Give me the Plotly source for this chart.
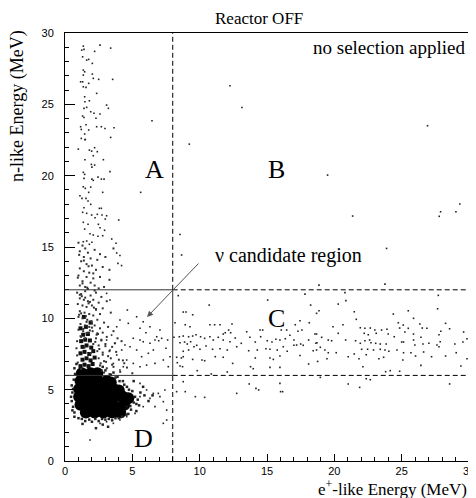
import plotly.graph_objects as go

# cut values that define the regions
e_cut = 8
n_lo = 6
n_hi = 12

# scattered events (A strip, B, C band, D, box interior)
sparse_x = [1.36, 2.60, 3.39, 1.24, 1.41, 2.20, 1.31, 1.61, 1.76, 2.03, 1.36, 1.46, 2.03, 1.36, 2.10, 2.50,
            3.54, 1.16, 1.31, 1.76, 1.36, 1.56, 2.35, 1.46, 1.48, 1.81, 3.09, 3.22, 1.41, 1.61, 1.91, 2.15,
            2.60, 1.31, 1.41, 2.30, 6.46, 1.56, 2.35, 2.70, 2.97, 3.64, 1.16, 1.21, 1.76, 1.46, 3.39, 1.21,
            1.51, 1.48, 0.99, 1.81, 1.98, 2.20, 2.40, 2.10, 1.48, 2.85, 1.96, 2.00, 2.20, 3.34, 1.36, 1.46,
            1.41, 2.00, 2.10, 2.45, 2.70, 2.90, 1.36, 1.51, 1.91, 1.76, 2.80, 5.62, 1.11, 1.26, 1.56, 1.71,
            1.91, 1.41, 2.55, 2.70, 1.31, 1.61, 1.98, 2.40, 2.75, 3.09, 2.23, 2.99, 3.99, 1.36, 1.71, 2.48,
            2.60, 1.46, 2.94, 1.86, 2.10, 2.45, 2.80, 3.79, 1.36, 1.61, 2.00, 1.81, 3.47,
            8.41, 10.71, 8.78, 8.98, 9.48, 8.17, 8.93, 9.28, 10.76, 11.11, 11.51, 12.40, 12.15, 12.30, 11.75,
            11.90, 13.49, 14.48, 14.68, 16.06, 16.46, 17.10, 17.45, 18.14, 17.30, 17.59, 18.68, 8.09, 8.49,
            8.78, 9.18, 9.48, 9.73, 10.07, 10.37, 10.76, 11.01, 11.38, 11.75, 12.25, 12.64, 13.09, 13.73,
            14.13, 14.53, 15.02, 15.37, 15.66, 15.96, 16.36, 16.70, 17.00, 17.20, 17.50, 17.69, 18.09, 18.63,
            8.54, 8.88, 9.08, 9.33, 9.58, 9.78, 10.02, 9.18, 8.78, 10.47, 10.96, 11.51, 12.05, 12.75, 13.64,
            14.28, 14.92, 15.22, 15.76, 16.21, 16.50, 17.00, 18.43, 18.68, 8.29, 8.64, 8.78, 9.48, 10.17,
            10.37, 11.16, 11.75, 12.45, 13.78, 13.98, 14.13, 15.22, 15.47, 15.96, 17.45, 18.09, 8.34, 8.54,
            8.73, 9.82, 10.86, 12.05, 15.22, 15.96, 8.78, 8.29, 8.93, 9.68, 10.37, 12.75, 13.68, 14.18,
            14.38, 15.96, 16.01, 16.16, 15.05, 17.82, 18.24, 18.68,
            18.86, 23.76, 20.79, 20.29, 20.86, 27.72, 18.86, 21.48, 24.38, 25.49, 27.67, 21.63, 25.88, 24.75,
            25.12, 26.35, 28.26, 19.90, 20.64, 21.93, 22.27, 22.67, 23.01, 23.51, 23.91, 24.85, 25.49, 26.53,
            26.87, 27.91, 28.56, 29.60, 18.56, 19.06, 20.29, 22.22, 22.52, 23.11, 24.00, 24.45, 25.24, 25.88,
            26.43, 27.77, 18.71, 19.55, 19.80, 20.84, 21.58, 21.93, 22.27, 22.62, 22.72, 23.07, 23.41, 23.85,
            25.00, 25.14, 25.88, 25.98, 26.58, 27.02, 27.62, 27.86, 28.95, 29.55, 29.85, 18.96, 19.30, 22.03,
            22.47, 22.91, 23.41, 23.76, 24.05, 24.65, 25.14, 25.69, 26.03, 26.63, 27.22, 27.77, 28.26, 29.05,
            19.55, 20.14, 21.03, 21.48, 21.83, 22.37, 23.31, 23.66, 25.09, 19.45, 18.76, 22.12, 23.81, 24.15,
            24.85, 26.43, 29.40, 29.85, 18.96, 21.03, 21.88, 22.37, 22.67, 28.56,
            12.25, 13.14, 26.92, 9.23, 19.50, 21.36, 27.79, 29.03, 29.32, 27.89, 8.54, 8.66, 23.88,
            3.09, 3.34, 4.08, 4.63, 5.57, 6.31, 6.81, 6.01, 7.05, 5.07, 5.57, 5.81, 6.31, 6.68, 6.96, 7.18,
            7.62, 7.50, 6.56, 6.19, 5.69, 5.32, 4.83, 4.45, 4.21, 3.84, 4.58, 5.07, 5.57, 6.06, 6.68, 7.30,
            7.67, 7.80, 4.33, 3.59, 4.08, 3.34, 3.71, 3.09, 3.46, 4.70, 5.32, 5.81, 3.84, 3.93, 4.20, 3.84,
            4.08, 5.57, 6.06, 6.56, 7.05, 7.30, 6.68, 7.55, 5.81, 5.20, 4.58, 4.08, 3.59, 3.09, 2.60, 1.86,
            5.57, 6.31, 6.93, 7.42, 4.58, 3.96, 7.55, 7.30]
sparse_y = [29.08, 29.15, 28.94, 28.80, 28.85, 28.71, 28.33, 28.10, 28.15, 27.87, 27.40, 27.28, 27.12, 27.05,
            26.82, 26.75, 26.75, 26.58, 26.58, 26.47, 26.23, 26.19, 25.77, 25.53, 25.18, 25.25, 24.95, 24.72,
            24.72, 24.79, 24.48, 24.37, 24.32, 24.18, 24.08, 24.02, 23.85, 23.57, 23.43, 23.43, 23.31, 23.36,
            23.43, 23.24, 23.20, 22.92, 22.68, 22.61, 22.54, 22.52, 21.86, 21.79, 21.72, 21.96, 21.68, 21.40,
            21.12, 21.12, 20.79, 20.60, 20.74, 20.28, 20.23, 20.09, 19.81, 19.76, 19.67, 19.90, 19.76, 19.76,
            19.22, 19.11, 19.20, 18.83, 18.83, 18.83, 18.59, 18.41, 18.41, 18.22, 17.99, 17.75, 17.71, 17.71,
            17.43, 17.36, 17.24, 17.29, 17.24, 17.19, 17.05, 16.96, 16.89, 16.73, 16.59, 16.59, 16.35, 16.26,
            16.17, 15.93, 15.84, 15.75, 15.79, 15.26, 15.37, 15.42, 15.33, 15.19, 15.56,
            11.59, 10.93, 10.44, 10.44, 10.25, 9.69, 9.55, 9.41, 9.55, 9.55, 9.55, 9.60, 9.18, 8.99, 8.90,
            8.99, 9.06, 9.18, 9.18, 9.18, 9.18, 9.55, 9.83, 9.69, 9.09, 9.18, 8.90, 8.67, 8.71, 8.76, 8.71,
            8.76, 8.85, 8.71, 8.60, 8.71, 8.48, 8.67, 8.48, 8.36, 8.62, 8.25, 8.67, 8.34, 8.71, 8.43, 8.34,
            8.53, 8.48, 8.57, 8.81, 8.48, 8.13, 8.20, 8.11, 8.48, 8.25, 8.29, 8.34, 8.20, 8.36, 8.01, 8.11,
            7.83, 7.78, 7.69, 8.06, 7.83, 7.87, 7.78, 8.01, 7.73, 7.78, 7.87, 7.83, 7.78, 8.01, 7.69, 8.11,
            7.73, 7.78, 7.27, 7.22, 7.31, 7.12, 7.08, 7.03, 7.31, 7.27, 6.84, 6.61, 6.47, 7.22, 7.22, 7.12,
            7.36, 7.40, 6.80, 6.89, 6.66, 6.61, 6.33, 6.10, 6.24, 6.56, 6.56, 5.56, 4.86, 4.86, 4.51, 4.46,
            4.74, 5.40, 5.09, 4.98, 5.44, 4.86, 4.86, 11.28, 11.70, 10.93, 10.35,
            12.33, 12.40, 11.80, 11.00, 11.24, 11.61, 10.53, 10.46, 10.30, 10.53, 10.67, 9.93, 10.00, 9.69,
            9.53, 9.60, 9.65, 9.41, 9.55, 9.34, 9.30, 9.32, 9.18, 9.18, 9.23, 9.32, 9.30, 9.32, 9.30, 9.09,
            9.27, 9.04, 8.90, 8.67, 8.95, 8.95, 8.85, 8.95, 8.90, 8.71, 9.04, 8.90, 8.67, 8.85, 8.29, 8.48,
            8.43, 8.48, 8.43, 8.25, 8.43, 8.48, 8.29, 8.25, 8.20, 8.20, 8.34, 8.34, 8.48, 8.13, 8.20, 8.25,
            8.13, 8.36, 8.20, 8.34, 8.57, 7.97, 7.78, 7.83, 7.83, 7.78, 7.83, 7.78, 7.69, 7.78, 7.59, 7.59,
            7.36, 7.64, 7.31, 8.01, 7.36, 7.59, 7.59, 7.59, 7.31, 7.50, 7.17, 7.45, 7.17, 7.27, 7.08, 7.17,
            6.98, 6.61, 6.26, 6.33, 6.29, 6.70, 6.66, 7.17, 5.86, 5.40, 5.16, 5.77, 5.70, 5.40,
            26.30, 24.78, 23.50, 22.21, 20.04, 17.17, 17.15, 17.47, 18.01, 17.47, 15.88, 14.44, 14.90,
            11.75, 11.28, 9.88, 10.58, 9.30, 9.41, 8.71, 8.99, 9.18, 8.60, 8.48, 8.36, 8.25, 8.48, 8.43, 8.60,
            8.48, 7.90, 7.78, 7.55, 7.31, 7.78, 8.01, 8.13, 7.78, 7.43, 7.08, 6.84, 6.61, 6.72, 6.84, 7.08,
            6.61, 7.31, 6.61, 6.84, 6.38, 7.78, 8.25, 8.48, 8.83, 9.65, 10.11, 9.76, 9.41, 13.85, 13.70, 14.58,
            14.40, 5.44, 4.98, 4.74, 4.51, 4.16, 3.81, 3.57, 3.81, 3.34, 3.11, 2.87, 2.64, 2.75, 2.64, 1.47,
            4.51, 4.39, 4.74, 4.98, 3.81, 4.16, 2.87, 2.64]

# events in the low energy column above the blob
column_x = [1.0, 1.3, 1.5, 1.1, 1.7, 2.2, 2.6, 1.4, 1.9, 1.2, 2.4, 3.0, 1.6, 2.0, 1.1, 2.8, 1.4, 1.8, 2.3,
            1.0, 1.6, 2.1, 2.6, 1.3, 1.9, 3.3, 1.1, 1.5, 2.2, 2.9, 1.7, 2.5, 3.6, 3.3,
            0.9, 1.2, 1.5, 1.9, 2.3, 2.7, 1.1, 1.4, 1.7, 2.1, 2.5, 3.1, 0.95, 1.3, 1.6, 2.0, 2.3, 2.8,
            1.1, 1.45, 1.8, 2.1, 2.6, 3.4, 1.0, 1.3, 1.65, 1.95, 2.4, 2.9, 1.15, 1.5, 1.8, 2.2, 2.6, 3.2,
            1.0, 1.35, 1.7, 2.05, 2.45, 2.8, 3.6, 1.2, 1.5, 2.3, 2.7, 3.1, 3.9, 0.9, 2.1, 2.5, 3.0, 3.5,
            4.2, 0.85, 2.4, 2.8, 3.3, 0.9, 2.5, 2.9, 3.4, 4.0, 0.95, 2.6, 3.1, 3.6, 2.9, 3.3,
            1.25, 1.75, 2.15, 1.05, 1.55, 2.0, 1.35, 1.85, 2.35, 1.15, 1.6, 2.25, 1.45, 1.9, 2.55, 1.2,
            1.05, 1.4, 1.75, 2.1, 0.95, 1.3, 1.65, 2.2, 1.1, 1.5, 1.85, 2.3, 1.2, 1.6, 2.0, 2.4,
            2.7, 3.0, 2.8, 3.2, 2.65, 3.05, 2.75, 3.5, 3.8, 4.4, 4.1, 3.7, 4.6, 5.0, 4.3]
column_y = [15.3, 15.1, 14.9, 14.7, 14.6, 14.8, 14.5, 14.3, 14.2, 14.0, 14.1, 14.3, 13.8, 13.7, 13.5, 13.6,
            13.3, 13.2, 13.4, 13.0, 12.9, 12.8, 12.9, 12.6, 12.5, 12.7, 12.3, 12.2, 12.3, 12.2, 12.05, 12.1,
            14.9, 13.4,
            11.8, 11.7, 11.9, 11.6, 11.8, 11.5, 11.4, 11.3, 11.2, 11.3, 11.1, 11.2, 11.0, 10.9, 10.8, 10.9,
            10.6, 10.7, 10.5, 10.4, 10.3, 10.2, 10.3, 10.4, 10.1, 10.0, 9.9, 9.8, 9.9, 9.7, 9.6, 9.5, 9.4,
            9.5, 9.3, 9.4, 9.2, 9.1, 9.0, 9.1, 8.9, 9.0, 9.1, 8.7, 8.6, 8.6, 8.5, 8.7, 8.6, 8.4, 8.2, 8.1,
            8.2, 8.0, 8.4, 7.9, 7.7, 7.6, 7.7, 7.4, 7.2, 7.0, 7.2, 7.1, 6.9, 6.7, 6.5, 6.6, 6.2, 6.1,
            11.55, 11.05, 10.75, 10.25, 10.15, 9.65, 9.25, 9.15, 8.85, 8.75, 8.95, 8.35, 7.95, 7.55, 7.85, 6.45,
            14.45, 14.05, 13.65, 13.15, 12.85, 12.45, 12.15, 11.95, 11.65, 11.45, 11.15, 10.65, 10.35, 9.75,
            9.35, 8.95, 8.45, 8.05, 7.45, 7.35, 6.85, 6.95, 6.35, 6.75, 7.65, 6.85, 6.25, 8.25, 6.55, 6.15,
            7.05]

# ragged edge of the dense blob
halo_x = [0.5, 0.55, 0.6, 0.5, 0.65, 0.7, 1.0, 1.5, 2.0, 2.5, 3.0, 3.5, 4.0, 1.3, 2.8, 3.2, 2.3, 0.7,
          4.9, 5.1, 5.2, 5.0, 4.6, 4.3, 3.9, 3.6, 5.4, 5.6, 5.5, 5.9, 6.2, 4.7, 5.3,
          0.45, 0.6, 0.55, 0.75, 1.25, 1.8, 2.25, 2.75, 3.25, 3.75, 4.25, 4.55, 4.85, 5.3, 4.75, 4.4,
          4.05, 3.75, 3.4, 3.0, 2.8, 0.7, 0.85, 5.8, 6.5, 5.1]
halo_y = [4.2, 4.8, 3.8, 5.3, 5.7, 3.4, 3.0, 2.8, 2.75, 2.8, 2.9, 2.85, 3.0, 2.6, 2.55, 2.4, 2.3, 3.1,
          3.6, 4.1, 4.5, 4.9, 5.2, 5.6, 5.9, 6.2, 4.3, 4.8, 3.9, 4.6, 4.2, 3.3, 3.5,
          4.5, 5.05, 3.55, 6.1, 2.95, 2.9, 2.95, 2.95, 2.95, 3.0, 3.1, 3.25, 3.85, 4.0, 5.0, 5.35,
          5.6, 5.85, 6.05, 6.35, 6.6, 6.5, 6.8, 5.2, 4.6, 5.6]

# saturated core of the blob
core_x = [1.55, 2.2, 2.85, 3.5, 4.1,
          1.15, 1.8, 2.45, 3.1, 3.75, 4.4,
          1.05, 1.7, 2.35, 3.0, 3.65, 4.3, 4.7,
          1.05, 1.7, 2.35, 3.0, 3.6, 4.0,
          1.15, 1.8, 2.45, 3.1, 3.4,
          1.25, 1.9, 2.4]
core_y = [3.4, 3.4, 3.4, 3.4, 3.4,
          3.95, 3.95, 3.95, 3.95, 3.95, 3.95,
          4.5, 4.5, 4.5, 4.5, 4.5, 4.5, 4.4,
          5.05, 5.05, 5.05, 5.05, 5.05, 4.95,
          5.6, 5.6, 5.6, 5.6, 5.5,
          6.15, 6.15, 6.15]

# dark column just above the core
neck_x = [1.15, 1.45, 1.75, 2.05, 1.3, 1.6, 1.9, 2.2, 1.15, 1.45, 1.8, 2.1, 1.3, 1.6, 1.95,
          1.2, 1.5, 1.85, 1.35, 1.7, 1.15, 1.55, 1.9, 1.4]
neck_y = [6.65, 6.75, 6.65, 6.8, 7.1, 7.2, 7.05, 7.25, 7.55, 7.65, 7.5, 7.7, 8.0, 8.1, 7.95,
          8.4, 8.5, 8.45, 8.85, 8.9, 9.3, 9.4, 9.7, 10.1]

serif = "Liberation Serif"

fig = go.Figure()
fig.add_trace(go.Scatter(x=core_x, y=core_y, mode="markers",
                         marker=dict(symbol="circle", size=12, color="black")))
fig.add_trace(go.Scatter(x=neck_x, y=neck_y, mode="markers",
                         marker=dict(symbol="square", size=4, color="#111")))
fig.add_trace(go.Scatter(x=column_x, y=column_y, mode="markers",
                         marker=dict(symbol="square", size=2, color="#333")))
fig.add_trace(go.Scatter(x=halo_x, y=halo_y, mode="markers",
                         marker=dict(symbol="square", size=2.5, color="#222")))
fig.add_trace(go.Scatter(x=sparse_x, y=sparse_y, mode="markers",
                         marker=dict(symbol="square", size=1.6, color="#222")))

solid = dict(color="#333", width=1)
dashed = dict(color="black", width=1, dash="5px,3px")
# candidate box (solid)
fig.add_shape(type="line", x0=0, x1=e_cut, y0=n_hi, y1=n_hi, line=solid)
fig.add_shape(type="line", x0=0, x1=e_cut, y0=n_lo, y1=n_lo, line=solid)
fig.add_shape(type="line", x0=e_cut, x1=e_cut, y0=n_lo, y1=n_hi, line=solid)
# region borders (dashed)
fig.add_shape(type="line", x0=e_cut, x1=e_cut, y0=0, y1=n_lo, line=dashed)
fig.add_shape(type="line", x0=e_cut, x1=e_cut, y0=n_hi, y1=30, line=dashed)
fig.add_shape(type="line", x0=e_cut, x1=30, y0=n_hi, y1=n_hi, line=dashed)
fig.add_shape(type="line", x0=e_cut, x1=30, y0=n_lo, y1=n_lo, line=dashed)

big = dict(family=serif, size=26, color="black")
for lbl, lx, ly in [("A", 6.68, 20.4), ("B", 15.74, 20.4), ("C", 15.71, 10.0), ("D", 5.81, 1.6)]:
    fig.add_annotation(x=lx, y=ly, text=lbl, showarrow=False, font=big)

fig.add_annotation(x=11.0, y=14.37, text="ν candidate region", showarrow=False,
                   xanchor="left", font=dict(family=serif, size=20, color="black"))
fig.add_annotation(x=6.09, y=10.09, ax=10.02, ay=13.95, axref="x", ayref="y", text="",
                   showarrow=True, arrowhead=2, arrowsize=1.2, arrowwidth=1, arrowcolor="#555")
fig.add_annotation(x=29.85, y=29.0, text="no selection applied", showarrow=False,
                   xanchor="right", font=dict(family=serif, size=19, color="black"))

fig.add_annotation(xref="paper", yref="paper", x=0.48, y=1.034, yanchor="middle", text="Reactor OFF",
                   showarrow=False, font=dict(family=serif, size=17, color="black"))
fig.add_annotation(xref="paper", yref="paper", x=1.0, y=-0.064, xanchor="right", yanchor="middle",
                   text="e<sup>+</sup>-like Energy (MeV)", showarrow=False,
                   font=dict(family=serif, size=17, color="black"))
fig.add_annotation(xref="paper", yref="paper", x=-0.116, y=1.012, xanchor="center", yanchor="top",
                   textangle=-90, text="n-like Energy (MeV)", showarrow=False,
                   font=dict(family=serif, size=18, color="black"))

axis = dict(range=[0, 30], showgrid=False, zeroline=False, showline=True, linecolor="black",
            linewidth=1, mirror=True, ticks="inside", tickcolor="black", tickwidth=1,
            tick0=0, dtick=5, automargin=False,
            tickfont=dict(family="Liberation Sans", size=11, color="black"),
            minor=dict(ticks="inside", dtick=1, ticklen=4, tickcolor="black", tickwidth=1))
fig.update_xaxes(**axis, ticklen=7)
fig.update_yaxes(**axis, ticklen=10, ticklabelstandoff=8)

# the page body adds an 8px offset, so the figure is 8px smaller and margins shifted
fig.update_layout(width=468, height=490, showlegend=False,
                  margin=dict(l=57, r=7, t=25, b=37),
                  plot_bgcolor="white", paper_bgcolor="white")

fig.write_html("out.html")
